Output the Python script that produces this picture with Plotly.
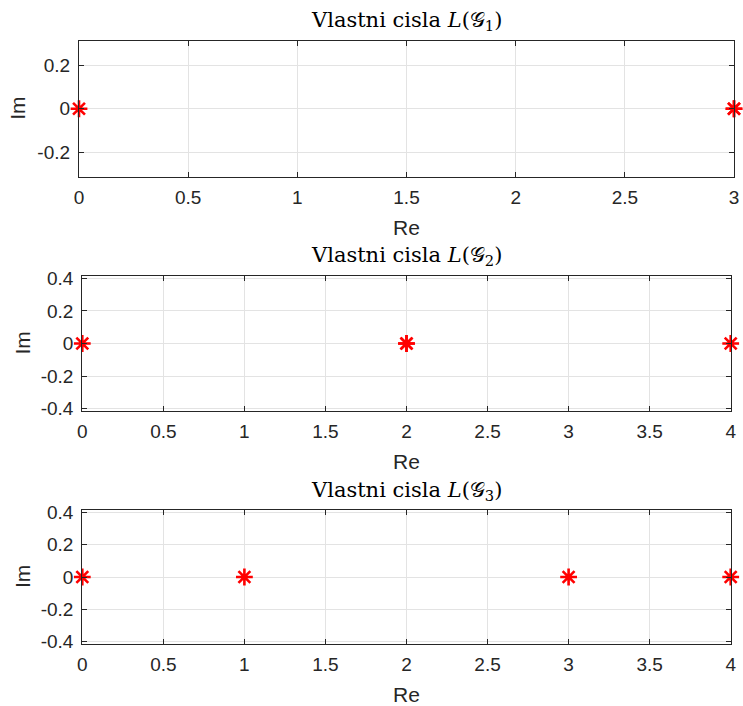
import plotly.graph_objects as go

# ---- data ----
re_g1 = [0, 3, 3]
im_g1 = [0, 0, 0]
re_g2 = [0, 2, 2, 4]
im_g2 = [0, 0, 0, 0]
re_g3 = [0, 1, 3, 4]
im_g3 = [0, 0, 0, 0]

titles = ["Vlastni cisla <i>L</i>(𝒢<sub>1</sub>)",
          "Vlastni cisla <i>L</i>(𝒢<sub>2</sub>)",
          "Vlastni cisla <i>L</i>(𝒢<sub>3</sub>)"]
x_label = "Re"
y_label = "Im"
x_max = [3, 4, 4]
y_lim = [0.314, 0.415, 0.415]
ytick_vals_1 = [-0.2, 0, 0.2]
ytick_text_1 = ["-0.2", "0", "0.2"]
ytick_vals_23 = [-0.4, -0.2, 0, 0.2, 0.4]
ytick_text_23 = ["-0.4", "-0.2", "0", "0.2", "0.4"]

W, H = 743, 706
# pixel boxes in window coords: (left, right, top, bottom)
boxes = [(79, 734, 40.5, 177), (82.3, 730.7, 276, 411), (82.3, 730.7, 510, 644)]
title_y = [21, 256, 491]


def px(xw):
    return xw / W


def py(yw):
    return 1 - yw / H


AX = "#262626"
GRID = "#e3e3e3"
TICKFONT = dict(family="Liberation Sans, Arial, sans-serif", size=19, color=AX)
LABFONT = dict(family="Liberation Sans, Arial, sans-serif", size=21, color=AX)

fig = go.Figure()
series = [(re_g1, im_g1), (re_g2, im_g2), (re_g3, im_g3)]
for i, (xs, ys) in enumerate(series):
    sfx = "" if i == 0 else str(i + 1)
    fig.add_trace(go.Scatter(
        x=xs, y=ys, mode="markers", xaxis="x" + sfx, yaxis="y" + sfx,
        marker=dict(symbol="asterisk", size=14, color="red",
                    line=dict(color="red", width=2.6)),
        cliponaxis=False, showlegend=False, hoverinfo="skip"))

layout = dict(template="none", width=W, height=H, autosize=False,
              margin=dict(l=0, r=0, t=0, b=0, pad=0, autoexpand=False),
              paper_bgcolor="white", plot_bgcolor="white", showlegend=False)
annotations = []
for i, (l, r, t, b) in enumerate(boxes):
    sfx = "" if i == 0 else str(i + 1)
    xa = dict(domain=[px(l), px(r)], range=[0, x_max[i]], dtick=0.5, tick0=0,
              showgrid=True, gridcolor=GRID, gridwidth=1, zeroline=False,
              showline=True, linecolor=AX, linewidth=1.2, mirror="ticks",
              ticks="inside", ticklen=5, tickcolor=AX, tickwidth=1.2,
              tickfont=TICKFONT, ticklabelstandoff=3, automargin=False,
              ticklabeloverflow="allow",
              anchor="y" + sfx, fixedrange=True)
    if i == 0:
        yv, yt = ytick_vals_1, ytick_text_1
    else:
        yv, yt = ytick_vals_23, ytick_text_23
    ya = dict(domain=[py(b), py(t)], range=[-y_lim[i], y_lim[i]],
              tickvals=yv, ticktext=yt,
              showgrid=True, gridcolor=GRID, gridwidth=1, zeroline=False,
              showline=True, linecolor=AX, linewidth=1.2, mirror="ticks",
              ticks="inside", ticklen=5, tickcolor=AX, tickwidth=1.2,
              tickfont=TICKFONT, ticklabelstandoff=4, automargin=False,
              anchor="x" + sfx, fixedrange=True)
    layout["xaxis" + sfx] = xa
    layout["yaxis" + sfx] = ya
    annotations.append(dict(text=titles[i], x=px((l + r) / 2), y=py(title_y[i]),
                            xref="paper", yref="paper", xanchor="center", yanchor="middle",
                            showarrow=False,
                            font=dict(family="DejaVu Serif, Liberation Serif, serif", size=21, color="black")))
    annotations.append(dict(text=x_label, x=px((l + r) / 2), y=py(b + 50),
                            xref="paper", yref="paper", xanchor="center", yanchor="middle",
                            showarrow=False, font=LABFONT))
    annotations.append(dict(text=y_label, x=px(18 if i == 0 else 22), y=py((t + b) / 2),
                            xref="paper", yref="paper", xanchor="center", yanchor="middle",
                            textangle=-90, showarrow=False, font=LABFONT))
layout["annotations"] = annotations
fig.update_layout(**layout)
fig.write_html("out.html", config={"displayModeBar": False},
               post_script="document.body.style.margin='0';document.body.style.overflow='hidden';")
